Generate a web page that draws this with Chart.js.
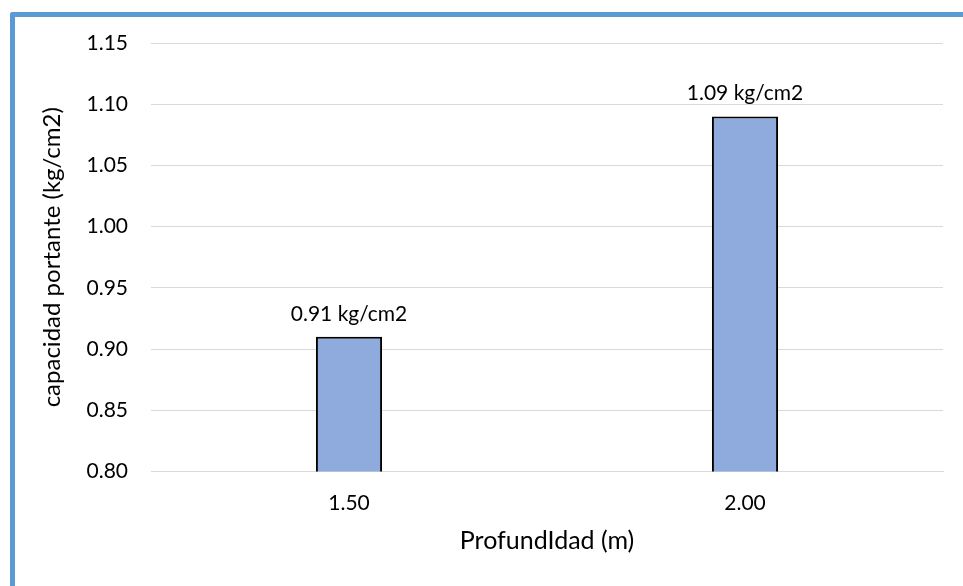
<!DOCTYPE html>
<html>
<head>
<meta charset="utf-8">
<script src="https://cdn.jsdelivr.net/npm/chart.js@4"></script>
<style>
  html, body { margin: 0; padding: 0; background: #fff; overflow: hidden; }
  .frame {
    position: absolute; left: 10px; top: 12px; width: 1000px; height: 700px;
    border-left: 5px solid #5b9bd5; border-top: 5px solid #5b9bd5;
    border-top-left-radius: 3px;
  }
  #chart { position: absolute; left: 0; top: 0; }
</style>
</head>
<body>
<div class="frame"></div>
<canvas id="chart" width="963" height="586"></canvas>
<script>
// categorias (profundidad) y capacidad portante
const profundidades = ['1.50', '2.00'];
const capacidad = [0.91, 1.09];
const unidad = 'kg/cm2';
const yMin = 0.80, yMax = 1.15, yStep = 0.05;

const FONT = 'Lato, "Open Sans", sans-serif';
const TXT = '#000000';

// etiquetas sobre las barras
const valueLabels = {
    id: 'valueLabels',
    afterDatasetsDraw(chart) {
        const ctx = chart.ctx;
        const meta = chart.getDatasetMeta(0);
        ctx.save();
        ctx.font = '21px ' + FONT;
        ctx.fillStyle = TXT;
        ctx.textAlign = 'center';
        ctx.textBaseline = 'middle';
        meta.data.forEach((bar, i) => {
            ctx.fillText(capacidad[i].toFixed(2) + ' ' + unidad, bar.x, bar.y - 23);
        });
        ctx.restore();
    }
};

new Chart(document.getElementById('chart').getContext('2d'), {
    type: 'bar',
    data: {
        labels: profundidades,
        datasets: [{
            data: capacidad,
            backgroundColor: '#8faadc',
            borderColor: '#000000',
            borderWidth: 2,
            categoryPercentage: 1,
            barPercentage: 0.167
        }]
    },
    options: {
        responsive: false,
        devicePixelRatio: 1,
        animation: false,
        layout: { padding: { left: 0, right: 20, top: 43, bottom: 0 } },
        plugins: { legend: { display: false }, tooltip: { enabled: false } },
        scales: {
            x: {
                grid: { display: false, drawTicks: false },
                border: { display: true, color: '#d9d9d9', width: 1 },
                ticks: { color: TXT, font: { family: FONT, size: 21 }, padding: 19 },
                title: {
                    display: true, text: 'ProfundIdad (m)', color: TXT,
                    font: { family: FONT, size: 25 }, padding: { top: 0, bottom: 30 }
                },
                afterFit(scale) { scale.height = 114.5; }
            },
            y: {
                min: yMin, max: yMax,
                grid: { color: '#d9d9d9', lineWidth: 1, drawTicks: false },
                border: { display: false },
                ticks: {
                    stepSize: yStep, color: TXT, padding: 23,
                    font: { family: FONT, size: 21 },
                    callback: v => Number(v).toFixed(2)
                },
                title: {
                    display: true, text: 'capacidad portante (kg/cm2)', color: TXT,
                    font: { family: FONT, size: 24 }, padding: { top: 38, bottom: 0 }
                },
                afterFit(scale) { scale.width = 151; }
            }
        }
    },
    plugins: [valueLabels]
});
</script>
</body>
</html>
